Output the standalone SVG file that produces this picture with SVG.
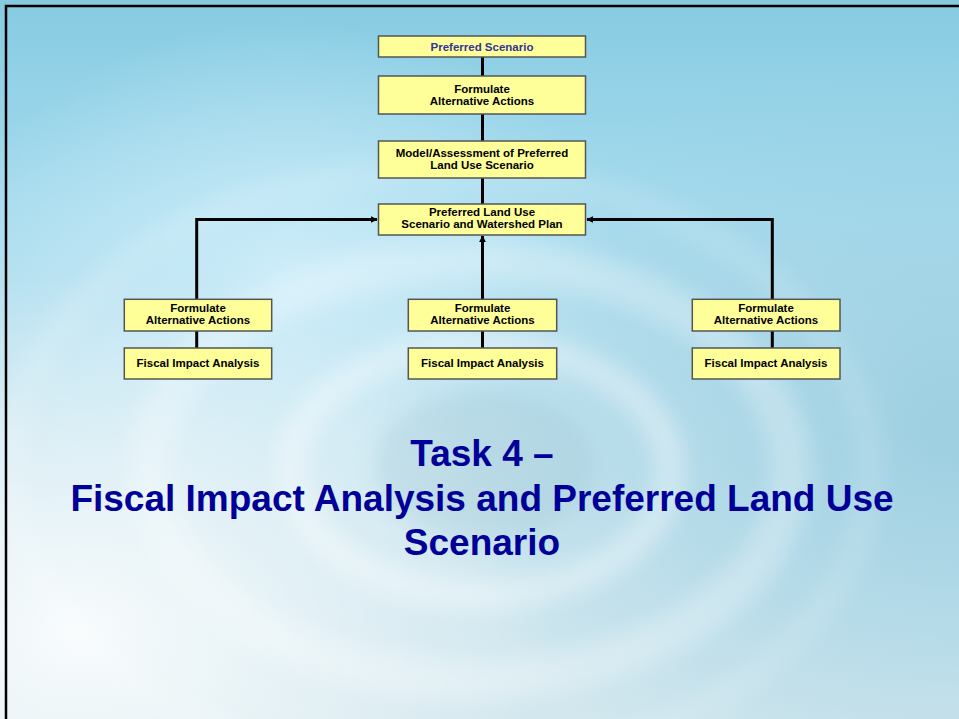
<svg xmlns="http://www.w3.org/2000/svg" width="959" height="719" viewBox="0 0 959 719">
  <defs>
    <linearGradient id="sky" x1="0" y1="0" x2="0" y2="1">
      <stop offset="0" stop-color="#86cbe2"/>
      <stop offset="0.3" stop-color="#a8dcee"/>
      <stop offset="0.6" stop-color="#c6e4ef"/>
      <stop offset="1" stop-color="#d2e7ee"/>
    </linearGradient>
    <radialGradient id="hazeLeft" cx="0.08" cy="0.88" r="0.5">
      <stop offset="0" stop-color="#ffffff" stop-opacity="0.85"/>
      <stop offset="1" stop-color="#ffffff" stop-opacity="0"/>
    </radialGradient>
    <radialGradient id="hazeMid" cx="0.3" cy="0.38" r="0.35">
      <stop offset="0" stop-color="#d6f1fc" stop-opacity="0.75"/>
      <stop offset="1" stop-color="#d6f1fc" stop-opacity="0"/>
    </radialGradient>
    <radialGradient id="tintRight" cx="1" cy="0.6" r="0.55">
      <stop offset="0" stop-color="#98cde0" stop-opacity="0.9"/>
      <stop offset="1" stop-color="#98cde0" stop-opacity="0"/>
    </radialGradient>
    <filter id="soft" x="-20%" y="-20%" width="140%" height="140%">
      <feGaussianBlur stdDeviation="10"/>
    </filter>
    <marker id="arrow" viewBox="0 0 10 10" refX="9" refY="5" markerWidth="7" markerHeight="7" markerUnits="userSpaceOnUse" orient="auto">
      <path d="M0,0 L10,5 L0,10 z" fill="#000"/>
    </marker>
    <style>
      .box { fill: #ffff99; stroke: #555555; stroke-width: 1.5; }
      .lbl { font-family: "Liberation Sans", Arial, sans-serif; font-weight: bold; font-size: 11.5px; fill: #000; text-anchor: middle; }
      .lbl.blue { fill: #333399; }
      .link { fill: none; stroke: #000; stroke-width: 3; }
      .title { font-family: "Liberation Sans", Arial, sans-serif; font-weight: bold; font-size: 37px; fill: #000099; text-anchor: middle; }
      .ring { fill: none; stroke: #ffffff; }
    </style>
  </defs>

  <!-- water background -->
  <rect x="0" y="0" width="959" height="719" fill="url(#sky)"/>
  <rect x="0" y="0" width="959" height="719" fill="url(#hazeMid)"/>
  <rect x="0" y="0" width="959" height="719" fill="url(#tintRight)"/>
  <rect x="0" y="0" width="959" height="719" fill="url(#hazeLeft)"/>
  <g filter="url(#soft)" opacity="0.5">
    <ellipse class="ring" cx="470" cy="470" rx="320" ry="210" stroke-width="40" opacity="0.55"/>
    <ellipse class="ring" cx="480" cy="470" rx="190" ry="125" stroke-width="30" opacity="0.7"/>
    <ellipse cx="485" cy="465" rx="110" ry="75" fill="#9cc4d1" opacity="0.6"/>
    <ellipse class="ring" cx="440" cy="470" rx="430" ry="300" stroke-width="28" opacity="0.25"/>
  </g>

  <!-- frame -->
  <path d="M6,719 V6 H959" fill="none" stroke="#000" stroke-width="2.5"/>

  <!-- connectors -->
  <g id="connectors">
    <line class="link" x1="482.5" y1="57" x2="482.5" y2="76"/>
    <line class="link" x1="482.5" y1="114" x2="482.5" y2="141"/>
    <line class="link" x1="482.5" y1="178" x2="482.5" y2="204"/>
    <path class="link" d="M196.7,299 V219.5 H377" marker-end="url(#arrow)"/>
    <path class="link" d="M482.5,299 V236" marker-end="url(#arrow)"/>
    <path class="link" d="M772.3,299 V219.5 H587" marker-end="url(#arrow)"/>
    <line class="link" x1="196.7" y1="331" x2="196.7" y2="348"/>
    <line class="link" x1="482.5" y1="331" x2="482.5" y2="348"/>
    <line class="link" x1="772.3" y1="331" x2="772.3" y2="348"/>
  </g>

  <!-- top chain -->
  <g id="preferred-scenario">
    <rect class="box" x="378.5" y="36" width="207" height="21"/>
    <text class="lbl blue" x="482" y="50.7">Preferred Scenario</text>
  </g>
  <g id="formulate-top">
    <rect class="box" x="378.5" y="76" width="207" height="38"/>
    <text class="lbl" x="482" y="93">Formulate</text>
    <text class="lbl" x="482" y="105">Alternative Actions</text>
  </g>
  <g id="model-assessment">
    <rect class="box" x="378.5" y="141" width="207" height="37"/>
    <text class="lbl" x="482" y="157.3">Model/Assessment of Preferred</text>
    <text class="lbl" x="482" y="169.3">Land Use Scenario</text>
  </g>
  <g id="land-use-plan">
    <rect class="box" x="378.5" y="204" width="207" height="31"/>
    <text class="lbl" x="482" y="216.3">Preferred Land Use</text>
    <text class="lbl" x="482" y="228.3">Scenario and Watershed Plan</text>
  </g>

  <!-- left branch -->
  <g id="formulate-left">
    <rect class="box" x="124.3" y="299.3" width="147.4" height="31.7"/>
    <text class="lbl" x="198" y="312.4">Formulate</text>
    <text class="lbl" x="198" y="324.4">Alternative Actions</text>
  </g>
  <g id="fiscal-left">
    <rect class="box" x="124.3" y="348" width="147.4" height="31"/>
    <text class="lbl" x="198" y="366.7">Fiscal Impact Analysis</text>
  </g>

  <!-- middle branch -->
  <g id="formulate-middle">
    <rect class="box" x="408.3" y="299.3" width="148.4" height="31.7"/>
    <text class="lbl" x="482.5" y="312.4">Formulate</text>
    <text class="lbl" x="482.5" y="324.4">Alternative Actions</text>
  </g>
  <g id="fiscal-middle">
    <rect class="box" x="408.3" y="348" width="148.4" height="31"/>
    <text class="lbl" x="482.5" y="366.7">Fiscal Impact Analysis</text>
  </g>

  <!-- right branch -->
  <g id="formulate-right">
    <rect class="box" x="692.3" y="299.3" width="147.7" height="31.7"/>
    <text class="lbl" x="766" y="312.4">Formulate</text>
    <text class="lbl" x="766" y="324.4">Alternative Actions</text>
  </g>
  <g id="fiscal-right">
    <rect class="box" x="692.3" y="348" width="147.7" height="31"/>
    <text class="lbl" x="766" y="366.7">Fiscal Impact Analysis</text>
  </g>

  <!-- heading -->
  <g id="title">
    <text class="title" x="482" y="466">Task 4 –</text>
    <text class="title" x="482" y="511">Fiscal Impact Analysis and Preferred Land Use</text>
    <text class="title" x="482" y="555">Scenario</text>
  </g>
</svg>
